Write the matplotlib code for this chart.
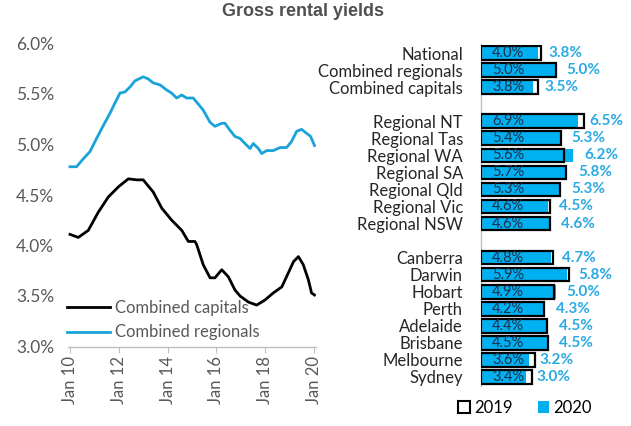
import matplotlib
matplotlib.use('Agg')
import matplotlib.pyplot as plt
from matplotlib.patches import Patch

# ---------------- data ----------------
reg_dates = [2010.00, 2010.27, 2010.55, 2010.82, 2011.09, 2011.37, 2011.64, 2011.84,
             2012.05, 2012.25, 2012.46, 2012.66, 2013.00, 2013.20, 2013.41, 2013.69,
             2013.96, 2014.16, 2014.37, 2014.58, 2014.78, 2015.05, 2015.19, 2015.46,
             2015.74, 2015.94, 2016.22, 2016.35, 2016.56, 2016.76, 2016.97, 2017.17,
             2017.38, 2017.51, 2017.72, 2017.86, 2018.06, 2018.33, 2018.61, 2018.88,
             2019.08, 2019.29, 2019.49, 2019.70, 2019.86, 2020.02]
reg_vals = [4.78, 4.78, 4.86, 4.93, 5.06, 5.19, 5.31, 5.41,
            5.51, 5.52, 5.57, 5.63, 5.67, 5.65, 5.61, 5.59,
            5.54, 5.51, 5.46, 5.49, 5.46, 5.46, 5.42, 5.34,
            5.22, 5.18, 5.21, 5.21, 5.14, 5.08, 5.06, 5.01,
            4.96, 5.01, 4.96, 4.91, 4.94, 4.94, 4.97, 4.97,
            5.03, 5.13, 5.15, 5.11, 5.08, 4.99]

cap_dates = [2010.00, 2010.34, 2010.75, 2011.16, 2011.57, 2011.98, 2012.39, 2012.73,
             2013.00, 2013.41, 2013.76, 2014.17, 2014.58, 2014.85, 2015.12, 2015.19,
             2015.46, 2015.74, 2015.94, 2016.22, 2016.49, 2016.76, 2016.97, 2017.31,
             2017.65, 2017.99, 2018.33, 2018.68, 2018.95, 2019.16, 2019.36, 2019.56,
             2019.77, 2019.90, 2020.02]
cap_vals = [4.11, 4.08, 4.15, 4.33, 4.48, 4.58, 4.66, 4.65,
            4.65, 4.53, 4.37, 4.25, 4.15, 4.04, 4.04, 4.01,
            3.81, 3.68, 3.68, 3.76, 3.69, 3.56, 3.50, 3.44,
            3.41, 3.46, 3.53, 3.59, 3.73, 3.84, 3.89, 3.81,
            3.66, 3.53, 3.51]

year_ticks = [2010, 2012, 2014, 2016, 2018, 2020]
year_labels = ['Jan 10', 'Jan 12', 'Jan 14', 'Jan 16', 'Jan 18', 'Jan 20']
pct_ticks = [3.0, 3.5, 4.0, 4.5, 5.0, 5.5, 6.0]

groups = [
    ['National', 'Combined regionals', 'Combined capitals'],
    ['Regional NT', 'Regional Tas', 'Regional WA', 'Regional SA', 'Regional Qld',
     'Regional Vic', 'Regional NSW'],
    ['Canberra', 'Darwin', 'Hobart', 'Perth', 'Adelaide', 'Brisbane', 'Melbourne', 'Sydney'],
]
y2019 = [4.0, 5.0, 3.8,
         6.9, 5.4, 5.6, 5.7, 5.3, 4.6, 4.6,
         4.8, 5.9, 4.9, 4.2, 4.4, 4.5, 3.6, 3.4]
y2020 = [3.8, 5.0, 3.5,
         6.5, 5.3, 6.2, 5.8, 5.3, 4.5, 4.6,
         4.7, 5.8, 5.0, 4.3, 4.5, 4.5, 3.2, 3.0]

# ---------------- style ----------------
W, H = 631, 426
FONT = ['Lato', 'DejaVu Sans']
plt.rcParams['font.family'] = FONT
GRAY = '#595959'
CYAN_LINE = '#1AA3DB'
BLUE = '#00B0F0'
LABEL_BLUE = '#2AAAE2'

fig = plt.figure(figsize=(W / 100, H / 100), dpi=100)

def ax_rect(x0, y0, x1, y1):
    return [x0 / W, 1 - y1 / H, (x1 - x0) / W, (y1 - y0) / H]

# ---------------- left: line chart ----------------
axL = fig.add_axes(ax_rect(68, 43.5, 316, 346.5))
axL.plot(cap_dates, cap_vals, color='black', lw=2.0, label='Combined capitals')
axL.plot(reg_dates, reg_vals, color=CYAN_LINE, lw=2.0, label='Combined regionals')
axL.set_xlim(2010 - 2 / 24.4, 2020 + 2 / 24.4)
axL.set_ylim(3.0, 6.0)
axL.set_xticks(year_ticks)
axL.set_xticklabels(year_labels, rotation=90, fontsize=12, color=GRAY)
axL.set_yticks(pct_ticks)
axL.set_yticklabels([f'{v:.1f}%' for v in pct_ticks], fontsize=12.5, color=GRAY)
for s in ['top', 'right', 'left']:
    axL.spines[s].set_visible(False)
axL.spines['bottom'].set_color('#BFBFBF')
axL.spines['bottom'].set_linewidth(1.0)
axL.tick_params(axis='y', length=0, pad=10)
axL.tick_params(axis='x', length=4, color='#BFBFBF', pad=3)
axL.patch.set_alpha(0)
leg = axL.legend(loc='lower left', bbox_to_anchor=(-0.005, 0.02), frameon=False,
                 fontsize=12, handlelength=2.6, handletextpad=0.3, labelspacing=0.5,
                 borderpad=0, borderaxespad=0)
for t in leg.get_texts():
    t.set_color(GRAY)

# ---------------- right: bar chart ----------------
SCALE = 14.9  # px per percent
axR = fig.add_axes(ax_rect(481, 44.5, 631, 385.5))
names, pos = [], []
p = 0
for g in groups:
    for n in g:
        names.append(n)
        pos.append(p)
        p += 1
    p += 1
axR.set_xlim(0, 150 / SCALE)
axR.set_ylim(pos[-1] + 0.5, -0.5)
bh = 0.8
axR.barh(pos, y2020, height=bh, color=BLUE, edgecolor='none', zorder=2)
axR.barh(pos, y2019, height=bh, facecolor='none', edgecolor='black', linewidth=1.6, zorder=3)
for yp, a, b in zip(pos, y2019, y2020):
    axR.annotate(f'{a:.1f}%', xy=(0, yp), xytext=(8, 0), textcoords='offset points',
                 ha='left', va='center', fontsize=10.5, color='#1F2F4A', zorder=4)
    axR.annotate(f'{b:.1f}%', xy=(b, yp), xytext=(8, 0), textcoords='offset points',
                 ha='left', va='center', fontsize=11, color=LABEL_BLUE,
                 fontweight='bold', zorder=4)
axR.set_yticks(pos)
axR.set_yticklabels(names, fontsize=12, color='#262626')
axR.tick_params(axis='y', length=0, pad=13)
axR.set_xticks([])
for s in ['top', 'right', 'bottom']:
    axR.spines[s].set_visible(False)
axR.spines['left'].set_color('#BFBFBF')
axR.spines['left'].set_linewidth(1.0)
axR.patch.set_alpha(0)

handles = [Patch(facecolor='white', edgecolor='black', linewidth=1.5, label='2019'),
           Patch(facecolor=BLUE, edgecolor='none', label='2020')]
fig.legend(handles=handles, loc='center', bbox_to_anchor=(525 / W, 1 - 408 / H),
           ncol=2, frameon=False, fontsize=12, handlelength=0.7, handleheight=0.7,
           handletextpad=0.25, columnspacing=1.5, borderpad=0)

# ---------------- title ----------------
fig.text(303 / W, 1 - 12 / H, 'Gross rental yields', ha='center', va='center',
         fontsize=13, fontweight='bold', color='#505050',
         family=['Liberation Sans', 'DejaVu Sans'])

fig.savefig('out.png', dpi=100)
